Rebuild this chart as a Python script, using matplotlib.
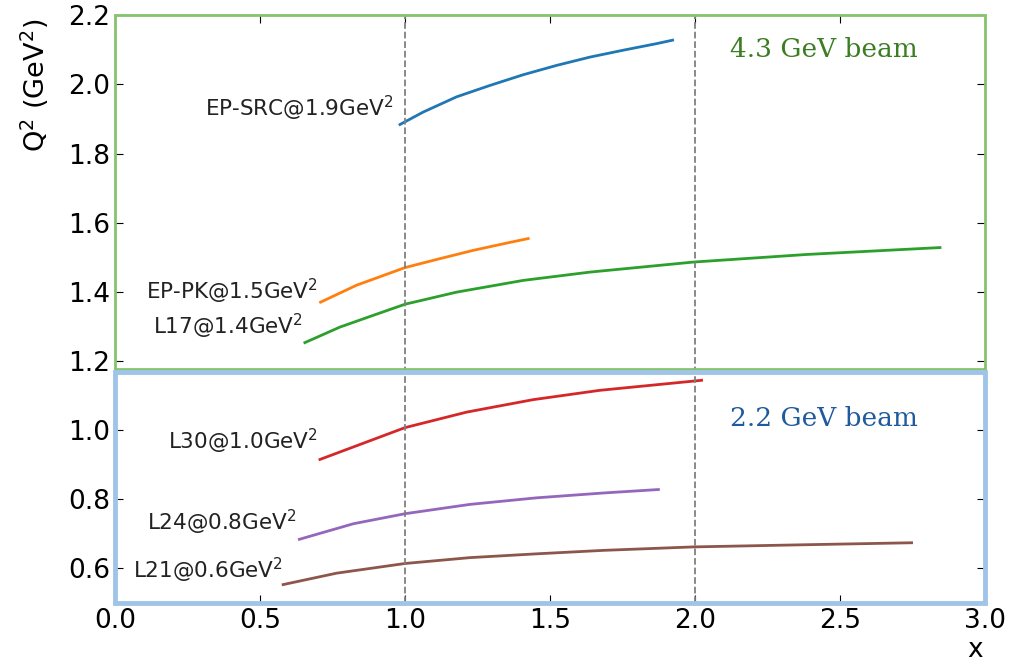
import matplotlib.pyplot as plt
from matplotlib.patches import Rectangle

# courbes Q2(x), points
src_x = [0.983, 1.063, 1.178, 1.293, 1.408, 1.523, 1.638, 1.753, 1.868, 1.923]
src_q2 = [1.884, 1.920, 1.964, 1.997, 2.028, 2.055, 2.079, 2.099, 2.118, 2.128]
pk_x = [0.709, 0.833, 1.0, 1.121, 1.236, 1.351, 1.425]
pk_q2 = [1.370, 1.419, 1.470, 1.496, 1.520, 1.541, 1.554]
l17_x = [0.655, 0.776, 0.891, 1.0, 1.178, 1.408, 1.638, 1.994, 2.385, 2.845]
l17_q2 = [1.253, 1.298, 1.332, 1.364, 1.399, 1.433, 1.457, 1.486, 1.508, 1.528]
l30_x = [0.707, 1.0, 1.213, 1.442, 1.672, 1.902, 2.023]
l30_q2 = [0.915, 1.007, 1.052, 1.088, 1.115, 1.134, 1.144]
l24_x = [0.636, 0.822, 1.0, 1.224, 1.454, 1.684, 1.874]
l24_q2 = [0.684, 0.729, 0.758, 0.785, 0.804, 0.818, 0.828]
l21_x = [0.580, 0.764, 1.0, 1.224, 1.454, 1.684, 1.994, 2.362, 2.747]
l21_q2 = [0.553, 0.586, 0.614, 0.631, 0.642, 0.652, 0.662, 0.668, 0.674]

labels = ["EP-SRC@1.9GeV$^2$", "EP-PK@1.5GeV$^2$", "L17@1.4GeV$^2$",
          "L30@1.0GeV$^2$", "L24@0.8GeV$^2$", "L21@0.6GeV$^2$"]
label_pos = [(0.96, 1.93), (0.70, 1.40), (0.648, 1.30),
             (0.70, 0.966), (0.624, 0.733), (0.579, 0.594)]

fig = plt.figure(figsize=(10.17, 6.64), dpi=100)
ax = fig.add_axes([0.113, 0.092, 0.8555, 0.885])

curves = [(src_x, src_q2), (pk_x, pk_q2), (l17_x, l17_q2),
          (l30_x, l30_q2), (l24_x, l24_q2), (l21_x, l21_q2)]
for i, (xs, ys) in enumerate(curves):
    ax.plot(xs, ys, color="C%d" % i, lw=2)
    ax.text(label_pos[i][0], label_pos[i][1], labels[i], ha="right",
            va="center", fontsize=15.5, color="#222222")

ax.axvline(1.0, color="gray", ls="--", lw=1.3)
ax.axvline(2.0, color="gray", ls="--", lw=1.3)

ax.set_xlim(0, 3)
ax.set_ylim(0.5, 2.2)
ax.set_xticks([0, 0.5, 1, 1.5, 2, 2.5, 3])
ax.set_yticks([0.6, 0.8, 1.0, 1.2, 1.4, 1.6, 1.8, 2.0, 2.2])
ax.tick_params(direction="in", top=True, right=True, labelsize=19, length=6)
ax.set_ylabel("Q$^2$ (GeV$^2$)", fontsize=19.5)
ax.yaxis.set_label_coords(-0.074, 0.88)
ax.set_xlabel("x", fontsize=19)
ax.xaxis.set_label_coords(0.989, -0.058)

# cadres des deux faisceaux
ax.add_patch(Rectangle((0, 1.176), 3, 1.024, fill=False,
                       edgecolor="#86c46c", lw=2, clip_on=False, zorder=5))
ax.add_patch(Rectangle((0, 0.5), 3, 0.668, fill=False,
                       edgecolor="#a0c4e8", lw=3.5, clip_on=False, zorder=5))

ax.text(2.445, 2.10, "4.3 GeV beam", ha="center", va="center",
        fontsize=19, color="#3b7d23", family="DejaVu Serif")
ax.text(2.445, 1.034, "2.2 GeV beam", ha="center", va="center",
        fontsize=19, color="#1f5a9c", family="DejaVu Serif")

plt.savefig("out.png")
